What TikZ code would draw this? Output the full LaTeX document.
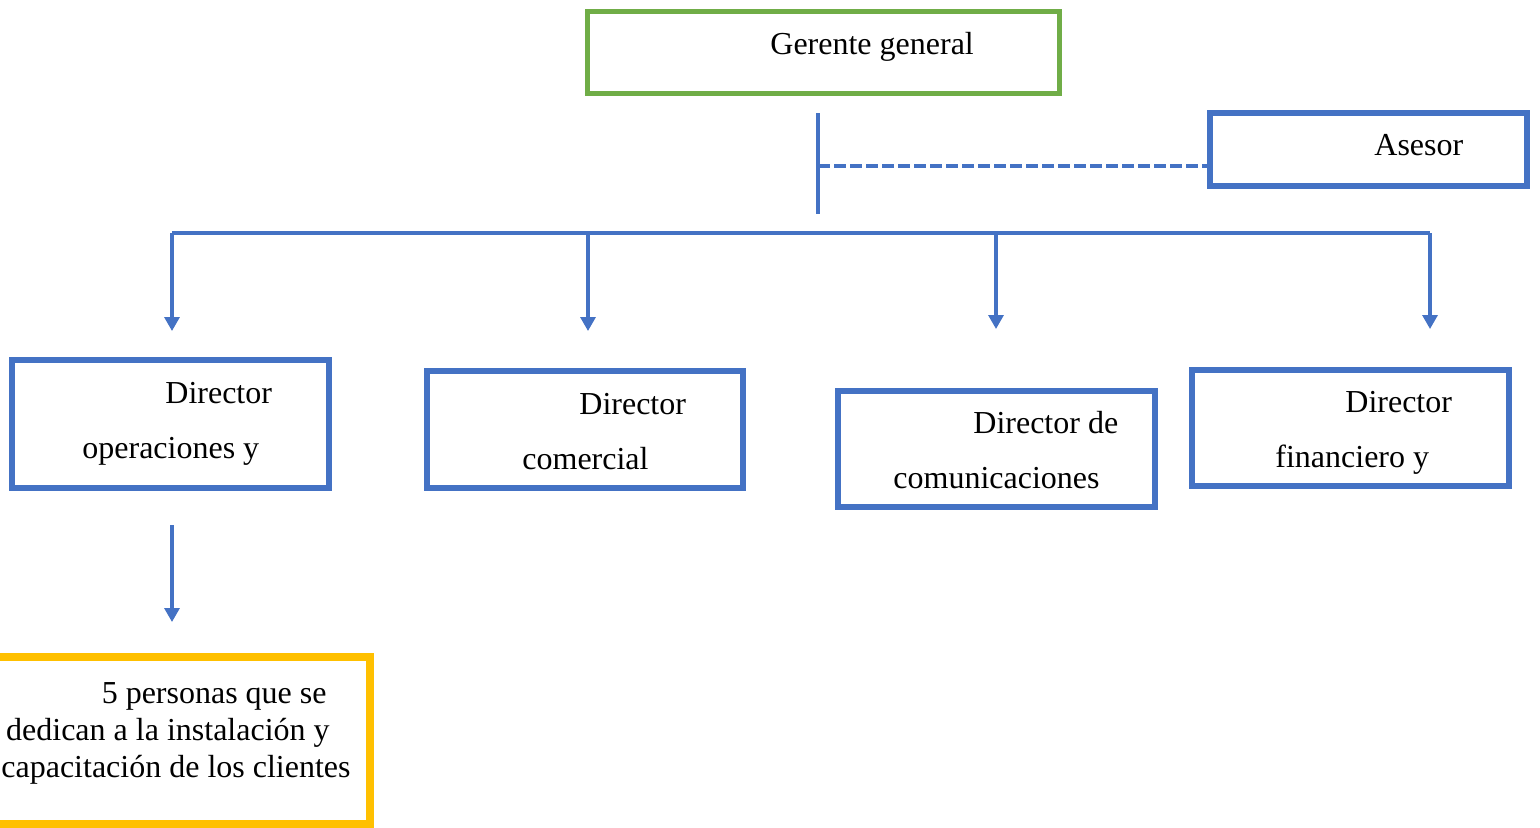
\documentclass[tikz,border=0pt]{standalone}
\usepackage{fontspec}
\setmainfont{Liberation Serif}
\usetikzlibrary{arrows.meta}
\definecolor{wblue}{HTML}{4472C4}
\definecolor{wgreen}{HTML}{70AD47}
\definecolor{wyellow}{HTML}{FFC000}
\tikzset{
  box/.style={draw=wblue, line width=3pt, minimum width=158.5pt, inner sep=0pt},
  lbl/.style={inner sep=0pt, font=\fontsize{16}{19}\selectfont, text=black},
  conn/.style={draw=wblue, line width=1.6pt},
  arr/.style={conn, -{Triangle[width=7.5pt,length=7pt]}},
}
\begin{document}
\begin{tikzpicture}[x=0.5pt,y=-0.5pt]
\useasboundingbox (0,0) rectangle (1540,827);
\clip (0,0) rectangle (1540,827);
% boxes
\node[box, draw=wgreen, line width=2.5pt, minimum width=236pt, minimum height=41pt] (gg) at (823.5,52.5) {};
\node[box, minimum height=36.5pt] (as) at (1368.5,149.5) {};
\node[box, minimum height=64pt] (dop) at (170.5,424) {};
\node[box, minimum width=158pt, minimum height=58.5pt] (dco) at (585,429.5) {};
\node[box, minimum height=58pt] (dcm) at (996.5,449) {};
\node[box, minimum height=58pt] (dfi) at (1350.5,428) {};
\node[box, draw=wyellow, line width=3.75pt, minimum width=195pt, minimum height=83.5pt] (pers) at (175,740.5) {};
% texts
\node[lbl, anchor=base west] (tgg) at (770,54) {Gerente general};
\node[lbl, anchor=base west] (tas) at (1374,155) {Asesor};
\node[lbl, anchor=base west] (top1) at (165,403) {Director};
\node[lbl, anchor=base west] (top2) at (82,458) {operaciones y};
\node[lbl, anchor=base west] (tco1) at (579,414) {Director};
\node[lbl, anchor=base west] (tco2) at (522,469) {comercial};
\node[lbl, anchor=base west] (tcm1) at (973,433) {Director de};
\node[lbl, anchor=base west] (tcm2) at (893,488) {comunicaciones};
\node[lbl, anchor=base west] (tfi1) at (1345,412) {Director};
\node[lbl, anchor=base west] (tfi2) at (1275,467) {financiero y};
\node[lbl, anchor=base east] (tp1) at (327,703) {5 personas que se};
\node[lbl, anchor=base east] (tp2) at (330,740) {dedican a la instalación y};
\node[lbl, anchor=base west] (tp3) at (1,777) {capacitación de los clientes};
% connector coordinates
\coordinate (vt) at (818,113);
\coordinate (vb) at (818,214);
\coordinate (vm) at (818,166);
\coordinate (h1) at (172,233);
\coordinate (h2) at (588,233);
\coordinate (h3) at (996,233);
\coordinate (h4) at (1430,233);
\coordinate (a1) at (172,331);
\coordinate (a2) at (588,331);
\coordinate (a3) at (996,329);
\coordinate (a4) at (1430,329);
\coordinate (b1) at (172,525);
\coordinate (b2) at (172,622);
% connectors
\draw[conn] (vt) -- (vb);
\draw[conn, dash pattern=on 6pt off 2pt] (vm) -- (vm -| as.west);
\draw[conn] (h1) -- (h4);
\draw[arr] (h1) -- (a1);
\draw[arr] (h2) -- (a2);
\draw[arr] (h3) -- (a3);
\draw[arr] (h4) -- (a4);
\draw[arr] (b1) -- (b2);
\end{tikzpicture}
\end{document}
